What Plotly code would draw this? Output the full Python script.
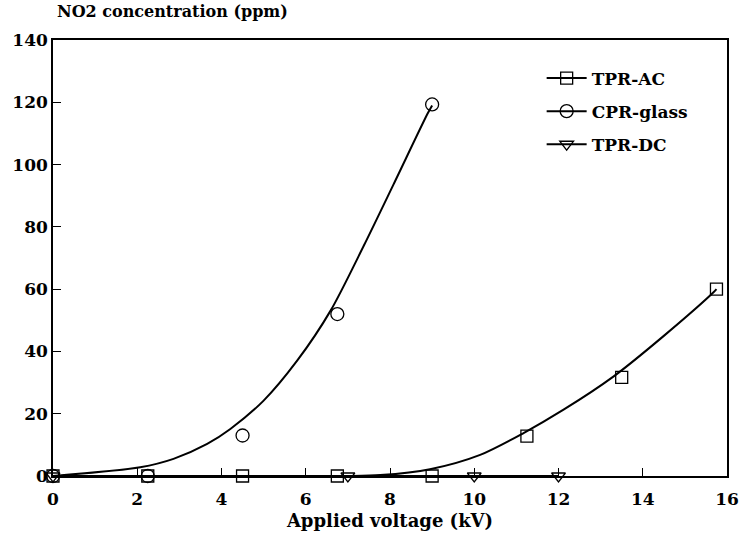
import plotly.graph_objects as go

# Measured points
ac_x = [0, 2.25, 4.5, 6.75, 9.0, 11.25, 13.5, 15.75]
ac_y = [0, 0, 0, 0, 0, 12.8, 31.7, 60.0]
glass_x = [0, 2.25, 4.5, 6.75, 9.0]
glass_y = [0, 0, 13.0, 52.0, 119.3]
dc_x = [0, 7.0, 10.0, 12.0]
dc_y = [0, 0, 0, 0]

# Fitted curves
ac_fit_x = [0, 7.0, 7.77, 8.95, 10.14, 11.17, 12.12, 13.31, 14.5, 15.68, 15.75]
ac_fit_y = [0, 0, 0.3, 2.2, 6.8, 13.8, 21.3, 32.0, 45.0, 59.0, 60.0]
glass_fit_x = [0, 2.07, 2.86, 3.66, 4.21, 5.0, 5.8, 6.59, 7.38, 8.09, 8.89, 9.0]
glass_fit_y = [0, 2.8, 5.5, 10.3, 15.1, 24.2, 37.1, 53.1, 74.0, 93.8, 116.3, 119.0]
dc_fit_x = [0, 12.0]
dc_fit_y = [0, 0]

names = ["TPR-AC", "CPR-glass", "TPR-DC"]
symbols = ["square-open", "circle-open", "triangle-down-open"]
sizes = [12, 13, 12]

FONT = "DejaVu Serif"
fig = go.Figure()

for fx, fy in [(ac_fit_x, ac_fit_y), (glass_fit_x, glass_fit_y), (dc_fit_x, dc_fit_y)]:
    fig.add_trace(go.Scatter(x=fx, y=fy, mode="lines",
                             line=dict(color="black", width=2, shape="spline", smoothing=0.8),
                             showlegend=False, hoverinfo="skip", cliponaxis=False))

for (px, py), sym, sz in zip([(ac_x, ac_y), (glass_x, glass_y), (dc_x, dc_y)], symbols, sizes):
    fig.add_trace(go.Scatter(x=px, y=py, mode="markers", showlegend=False, cliponaxis=False,
                             marker=dict(symbol=sym, size=sz, color="black", line=dict(color="black", width=1.3))))

for name, sym, sz in zip(names, symbols, sizes):
    fig.add_trace(go.Scatter(x=[None], y=[None], mode="lines+markers", name=name, legendgroup=name,
                             line=dict(color="black", width=2),
                             marker=dict(symbol=sym, size=sz, color="black", line=dict(color="black", width=1.3))))

fig.update_layout(
    width=739, height=533,
    margin=dict(l=53, r=12, t=40, b=57),
    paper_bgcolor="white", plot_bgcolor="white",
    font=dict(family=FONT, size=17, color="black"),
    showlegend=True,
    legend=dict(x=0.725, y=0.953, xanchor="left", yanchor="top", bgcolor="rgba(0,0,0,0)",
                font=dict(family=FONT, size=17, color="black", weight="bold"),
                tracegroupgap=8, itemwidth=40),
    xaxis=dict(range=[0, 16], tickvals=[0, 2, 4, 6, 8, 10, 12, 14, 16], ticks="inside", ticklen=8,
               tickcolor="black", showline=True, linecolor="black", linewidth=1.5, mirror=True,
               showgrid=False, zeroline=False, automargin=False, ticklabelstandoff=7,
               tickfont=dict(family=FONT, size=17, weight="bold"),
               title=dict(text="Applied voltage (kV)", font=dict(family=FONT, size=18, weight="bold"), standoff=6)),
    yaxis=dict(range=[0, 140], tickvals=[0, 20, 40, 60, 80, 100, 120, 140], ticks="inside", ticklen=8,
               tickcolor="black", showline=True, linecolor="black", linewidth=1.5, mirror=True,
               showgrid=False, zeroline=False, automargin=False,
               tickfont=dict(family=FONT, size=17, weight="bold")),
    annotations=[dict(text="NO2 concentration (ppm)", xref="paper", yref="paper", x=0.003, y=1.0,
                      xanchor="left", yanchor="bottom", yshift=17, showarrow=False,
                      font=dict(family=FONT, size=16, weight="bold"))],
)

fig.write_html("out.html", config={"displayModeBar": False},
               post_script="document.body.style.margin='0';")
